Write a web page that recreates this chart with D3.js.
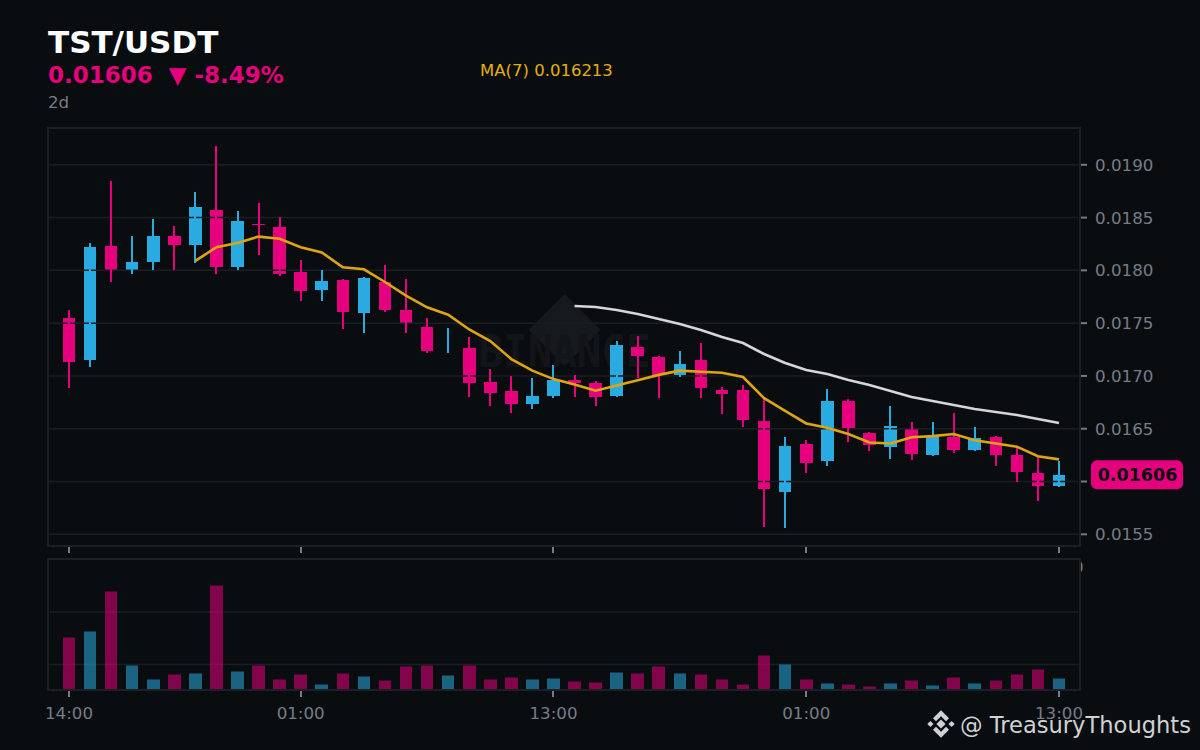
<!DOCTYPE html>
<html>
<head>
<meta charset="utf-8">
<script src="https://cdn.jsdelivr.net/npm/d3@7"></script>
<style>
  html, body { margin: 0; padding: 0; background: #0a0d10; }
  svg { display: block; }
  text { font-family: "DejaVu Sans", sans-serif; }
</style>
</head>
<body>
<div id="chart"></div>
<script>
// candles, prices in units of 0.00001
var opens = [1755, 1715, 1823, 1800, 1808, 1833, 1824, 1857, 1803, 1844, 1841, 1798, 1781, 1791, 1760, 1789,
  1762, 1746, 1735, 1726, 1694, 1686, 1673, 1681, 1696, 1693, 1681, 1727, 1718, 1701, 1715, 1687,
  1687, 1657, 1590, 1636, 1619, 1676, 1646, 1633, 1650, 1625, 1642, 1630, 1642, 1625, 1608, 1596]
var closes = [1713, 1822, 1800, 1808, 1833, 1824, 1860, 1803, 1847, 1843, 1797, 1780, 1790, 1761, 1793, 1762,
  1750, 1724, 1735, 1693, 1684, 1673, 1681, 1696, 1693, 1680, 1729, 1719, 1701, 1711, 1689, 1683,
  1658, 1593, 1634, 1618, 1676, 1651, 1635, 1653, 1626, 1643, 1630, 1641, 1625, 1609, 1596, 1606]
var highs = [1762, 1826, 1885, 1833, 1849, 1842, 1874, 1918, 1856, 1864, 1851, 1810, 1800, 1792, 1794, 1805,
  1792, 1755, 1745, 1737, 1707, 1700, 1698, 1710, 1701, 1695, 1733, 1738, 1719, 1724, 1731, 1690,
  1691, 1680, 1642, 1639, 1688, 1678, 1647, 1672, 1656, 1656, 1665, 1652, 1643, 1633, 1624, 1619]
var lows = [1689, 1708, 1789, 1797, 1800, 1800, 1807, 1797, 1800, 1815, 1795, 1771, 1771, 1744, 1741, 1761,
  1741, 1722, 1722, 1680, 1672, 1665, 1669, 1679, 1680, 1672, 1680, 1698, 1679, 1699, 1679, 1664,
  1652, 1557, 1556, 1608, 1615, 1637, 1629, 1621, 1620, 1624, 1627, 1629, 1615, 1600, 1582, 1595]
var volumes = [52, 58, 98, 24, 10, 15, 16, 104, 18, 24, 10, 15, 5, 16, 13, 9,
  23, 24, 14, 24, 10, 12, 10, 11, 8, 7, 17, 16, 23, 16, 15, 10,
  5, 34, 25, 10, 6, 5, 3, 6, 9, 4, 12, 6, 9, 15, 20, 11]

// moving averages, the short one starts at candle 6 and the long one at candle 24
var ma7 = [1809, 1822, 1826, 1832, 1830, 1822, 1817, 1803, 1801, 1789, 1776, 1765, 1758, 1744, 1733, 1716, 1705, 1697,
  1692, 1686, 1691, 1696, 1701, 1705, 1704, 1703, 1699, 1679, 1667, 1655, 1651, 1645, 1637, 1636, 1642, 1643,
  1645, 1639, 1636, 1633, 1624, 1621]
var ma25 = [1766.3, 1765.3, 1762.5, 1758.7, 1753.9, 1749.2, 1743.5, 1736.9, 1731.2, 1720.8, 1712.3, 1705.6,
  1701.8, 1696.2, 1691.4, 1685.7, 1680.1, 1676.3, 1672.5, 1668.7, 1665.9, 1663, 1659.2, 1655.4]
var ma7_start = 6
var ma25_start = 24

var price_ticks = [1550, 1600, 1650, 1700, 1750, 1800, 1850, 1900]
var price_labels = ["0.0155", "", "0.0165", "0.0170", "0.0175", "0.0180", "0.0185", "0.0190"]
var volume_ticks = [25, 77.5]
var time_ticks = [0, 11, 23, 35, 47]
var time_labels = ["14:00", "01:00", "13:00", "01:00", "13:00"]

var width = 1200, height = 750
var color_bg = "#0a0d10"
  , color_panel = "#1c2024"
  , color_grid = "#1a1e22"
  , color_down = "#e6007e"
  , color_up = "#29abe2"
  , color_ma7 = "#dfa510"
  , color_ma25 = "#d4d6d8"
  , color_muted = "#757c86"
  , color_mark = "#16191d"
  , color_mark_text = "#121519"

var left = 48, right = 1080
  , price_top = 128, price_bottom = 546
  , volume_top = 559, volume_bottom = 690

var svg = d3.select("#chart").append("svg")
  .attr("width", width)
  .attr("height", height)

var x = d3.scaleLinear().domain([0, 47]).range([69, 1059])
var y = d3.scaleLinear().domain([1550, 1900]).range([534.3, 164.8])
var y_volume = d3.scaleLinear().domain([0, 130]).range([689.5, 559.5])

var indexes = d3.range(opens.length)
var body_half = 6.3

function isUp(i) { return closes[i] >= opens[i] }
function candleColor(i) { return isUp(i) ? color_up : color_down }

/*
  Watermark
*/
var cx = (left + right) / 2 + 0.5
  , cy = (price_top + price_bottom) / 2 - 7

svg.append("path")
  .attr("d", "M" + (cx) + "," + (cy - 36) + "L" + (cx + 36) + "," + cy + "L" + cx + "," + (cy + 36) + "L" + (cx - 36) + "," + cy + "Z")
  .attr("fill", color_mark)

svg.append("text")
  .text("BINANCE")
  .attr("x", cx)
  .attr("y", cy + 37)
  .attr("text-anchor", "middle")
  .attr("textLength", 172)
  .attr("lengthAdjust", "spacingAndGlyphs")
  .style("font-family", "'DejaVu Sans Mono', monospace")
  .style("font-weight", "bold")
  .style("font-size", "45px")
  .attr("fill", color_mark_text)

/*
  Candle bodies go under the grid, wicks over it
*/
svg.append("g").selectAll("rect")
  .data(indexes)
  .enter().append("rect")
    .attr("x", function (i) { return Math.round(x(i) - body_half) })
    .attr("width", function (i) { return Math.round(x(i) + body_half) - Math.round(x(i) - body_half) })
    .attr("y", function (i) { return Math.round(y(Math.max(opens[i], closes[i]))) })
    .attr("height", function (i) { return Math.round(y(Math.min(opens[i], closes[i]))) - Math.round(y(Math.max(opens[i], closes[i]))) })
    .attr("fill", candleColor)

var price_grid = svg.append("g")
price_grid.selectAll("line")
  .data(price_ticks)
  .enter().append("line")
    .attr("x1", left).attr("x2", right)
    .attr("y1", function (d) { return y(d) })
    .attr("y2", function (d) { return y(d) })
    .attr("stroke", color_grid)
    .attr("stroke-width", 1.5)

svg.append("g").selectAll("rect")
  .data(indexes)
  .enter().append("rect")
    .attr("x", function (i) { return Math.round(x(i)) - 1 })
    .attr("width", 2)
    .attr("y", function (i) { return Math.round(y(highs[i])) })
    .attr("height", function (i) { return Math.round(y(lows[i])) - Math.round(y(highs[i])) })
    .attr("fill", candleColor)

// the doji gets a hairline across the wick
svg.append("g").selectAll("rect")
  .data(indexes.filter(function (i) { return i === 9 }))
  .enter().append("rect")
    .attr("x", function (i) { return Math.round(x(i) - body_half) })
    .attr("width", 13)
    .attr("y", function (i) { return Math.round(y(opens[i])) })
    .attr("height", 1)
    .attr("fill", candleColor)

/*
  Moving averages
*/
function maLine(start) {
  return d3.line()
    .x(function (d, i) { return x(i + start) })
    .y(function (d) { return y(d) })
}

svg.append("path")
  .attr("d", maLine(ma25_start)(ma25))
  .attr("fill", "none")
  .attr("stroke", color_ma25)
  .attr("stroke-width", 2.6)

svg.append("path")
  .attr("d", maLine(ma7_start)(ma7))
  .attr("fill", "none")
  .attr("stroke", color_ma7)
  .attr("stroke-width", 2.6)

/*
  Volume panel
*/
svg.append("g").selectAll("line")
  .data(volume_ticks)
  .enter().append("line")
    .attr("x1", left).attr("x2", right)
    .attr("y1", function (d) { return y_volume(d) })
    .attr("y2", function (d) { return y_volume(d) })
    .attr("stroke", color_grid)
    .attr("stroke-width", 1.5)

svg.append("g").selectAll("rect")
  .data(indexes)
  .enter().append("rect")
    .attr("x", function (i) { return Math.round(x(i) - body_half) })
    .attr("width", function (i) { return Math.round(x(i) + body_half) - Math.round(x(i) - body_half) })
    .attr("y", function (i) { return y_volume(volumes[i]) })
    .attr("height", function (i) { return y_volume(0) - y_volume(volumes[i]) })
    .attr("fill", candleColor)
    .attr("opacity", 0.55)

/*
  Frames and ticks
*/
function frame(top, bottom) {
  svg.append("rect")
    .attr("x", left).attr("y", top)
    .attr("width", right - left).attr("height", bottom - top)
    .attr("fill", "none")
    .attr("stroke", color_panel)
    .attr("stroke-width", 2)
}
frame(price_top, price_bottom)
frame(volume_top, volume_bottom)

function timeTicks(y0) {
  svg.append("g").selectAll("line")
    .data(time_ticks)
    .enter().append("line")
      .attr("x1", function (d) { return Math.round(x(d)) })
      .attr("x2", function (d) { return Math.round(x(d)) })
      .attr("y1", y0).attr("y2", y0 + 6)
      .attr("stroke", color_muted)
      .attr("stroke-width", 2)
}
timeTicks(547)
timeTicks(691)

svg.append("g").selectAll("text")
  .data(time_ticks)
  .enter().append("text")
    .text(function (d, i) { return time_labels[i] })
    .attr("x", function (d) { return x(d) })
    .attr("y", 719)
    .attr("text-anchor", "middle")
    .attr("fill", color_muted)
    .style("font-size", "16.7px")

var price_axis = svg.append("g").selectAll("g")
  .data(price_ticks)
  .enter().append("g")

price_axis.append("line")
  .attr("x1", right + 1).attr("x2", right + 7)
  .attr("y1", function (d) { return y(d) })
  .attr("y2", function (d) { return y(d) })
  .attr("stroke", color_muted)
  .attr("stroke-width", 2)

price_axis.append("text")
  .text(function (d, i) { return price_labels[i] })
  .attr("x", 1095)
  .attr("y", function (d) { return y(d) + 6 })
  .attr("fill", color_muted)
  .style("font-size", "16.7px")

// sliver of a clipped volume label that sticks out past the frame
svg.append("clipPath")
  .attr("id", "volume-label-clip")
  .append("rect")
    .attr("x", 1081).attr("y", 555)
    .attr("width", 6).attr("height", 25)

svg.append("text")
  .text("0")
  .attr("x", 1073)
  .attr("y", 573)
  .attr("clip-path", "url(#volume-label-clip)")
  .attr("fill", color_muted)
  .style("font-size", "16.7px")

/*
  Last price tag
*/
var last_price = closes[closes.length - 1]

svg.append("rect")
  .attr("x", 1091).attr("y", y(last_price) - 15)
  .attr("width", 92).attr("height", 29)
  .attr("rx", 6)
  .attr("fill", color_down)

svg.append("text")
  .text("0.01606")
  .attr("x", 1137.5)
  .attr("y", y(last_price) + 6)
  .attr("text-anchor", "middle")
  .attr("fill", "#0a0d10")
  .style("font-size", "17.5px")
  .style("font-weight", "bold")

/*
  Heading
*/
svg.append("text")
  .text("TST/USDT")
  .attr("x", 48).attr("y", 53)
  .attr("fill", "#ffffff")
  .style("font-size", "31px")
  .style("font-weight", "bold")

svg.append("text")
  .attr("xml:space", "preserve")
  .style("white-space", "pre")
  .text("0.01606  \u25BC -8.49%")
  .attr("x", 48).attr("y", 83)
  .attr("fill", color_down)
  .style("font-size", "23px")
  .style("font-weight", "bold")

svg.append("text")
  .text("2d")
  .attr("x", 48).attr("y", 108)
  .attr("fill", color_muted)
  .style("font-size", "16.7px")

svg.append("text")
  .text("MA(7) 0.016213")
  .attr("x", 480).attr("y", 76)
  .attr("fill", "#e6ad0e")
  .style("font-size", "16.5px")

/*
  Signature
*/
var logo = svg.append("g")
  .attr("transform", "translate(941, 724)")
  .attr("fill", "#cfd2d4")

logo.selectAll("path")
  .data([
    "M0,-4.6L4.6,0L0,4.6L-4.6,0Z"
  , "M-13.7,0L-10.6,-3.1L-7.5,0L-10.6,3.1Z"
  , "M13.7,0L10.6,-3.1L7.5,0L10.6,3.1Z"
  , "M0,-13.7L8,-5.7L5,-2.7L0,-7.7L-5,-2.7L-8,-5.7Z"
  , "M0,13.7L8,5.7L5,2.7L0,7.7L-5,2.7L-8,5.7Z"
  ])
  .enter().append("path")
    .attr("d", function (d) { return d })

svg.append("text")
  .text("@ TreasuryThoughts")
  .attr("x", 960).attr("y", 733)
  .attr("fill", "#cfd2d4")
  .attr("textLength", 231)
  .attr("lengthAdjust", "spacingAndGlyphs")
  .style("font-size", "23px")
</script>
</body>
</html>
